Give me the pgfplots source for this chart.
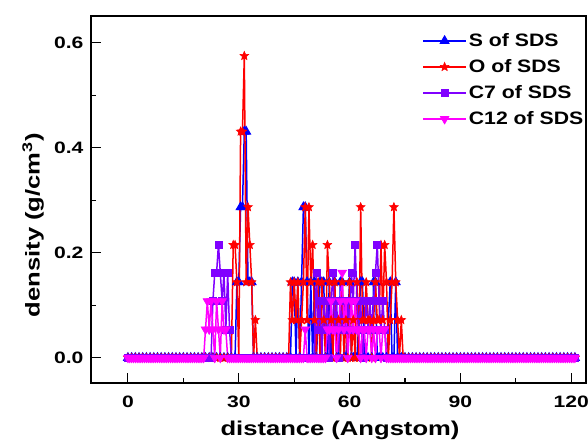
\documentclass[border=0pt]{standalone}
\usepackage{pgfplots}
\pgfplotsset{compat=1.18}
\usepackage{fontspec}
\setmainfont{Liberation Sans}
\usetikzlibrary{calc}
\definecolor{cS}{RGB}{0,0,255}
\definecolor{cO}{RGB}{255,0,0}
\definecolor{cCs}{RGB}{128,0,255}
\definecolor{cCt}{RGB}{255,0,255}
\newcommand{\wide}[1]{\scalebox{1.28}[1]{#1}}
\newcommand{\lwide}[1]{\scalebox{1.18}[1]{#1}}
\pgfdeclareplotmark{fstar}{%
 \pgfpathmoveto{\pgfpointpolar{90}{\pgfplotmarksize}}%
 \pgfpathlineto{\pgfpointpolar{126}{0.45\pgfplotmarksize}}%
 \pgfpathlineto{\pgfpointpolar{162}{\pgfplotmarksize}}%
 \pgfpathlineto{\pgfpointpolar{198}{0.45\pgfplotmarksize}}%
 \pgfpathlineto{\pgfpointpolar{234}{\pgfplotmarksize}}%
 \pgfpathlineto{\pgfpointpolar{270}{0.45\pgfplotmarksize}}%
 \pgfpathlineto{\pgfpointpolar{306}{\pgfplotmarksize}}%
 \pgfpathlineto{\pgfpointpolar{342}{0.45\pgfplotmarksize}}%
 \pgfpathlineto{\pgfpointpolar{18}{\pgfplotmarksize}}%
 \pgfpathlineto{\pgfpointpolar{54}{0.45\pgfplotmarksize}}%
 \pgfpathclose\pgfusepathqfillstroke}
\begin{document}
\begin{tikzpicture}
\begin{axis}[scale only axis, width=495pt, height=367pt,
 xmin=-10, xmax=124, ymin=-0.048, ymax=0.651,
 axis line style={line width=1.3pt},
 tick style={line width=1.1pt, black},
 major tick length=10pt, minor tick length=5pt,
 tick align=inside, tick pos=left,
 xtick={0,30,60,90,120}, minor xtick={15,45,75,105},
 ytick={0,0.2,0.4,0.6}, minor ytick={0.1,0.3,0.5},
 xticklabel={\wide{\pgfmathprintnumber[assume math mode=true]{\tick}}},
 yticklabel={\wide{\pgfmathprintnumber[assume math mode=true,fixed,fixed zerofill,precision=1]{\tick}}},
 tick label style={font=\bfseries\fontsize{16.5}{17}\selectfont},
 xticklabel style={yshift=-9pt},
 yticklabel style={xshift=-4pt},
 xlabel={\wide{distance (Angstom)}},
 ylabel={\wide{density (g/cm\textsuperscript{3})}},
 label style={font=\bfseries\fontsize{20}{21}\selectfont},
 xlabel style={at={(axis description cs:0.503,-0.128)}, anchor=center},
 ylabel style={at={(axis description cs:-0.117,0.43)}, anchor=center},
 legend cell align=left,
 legend style={draw=none, fill=none, at={(axis description cs:0.669,0.958)}, anchor=north west,
   font=\bfseries\fontsize{18}{18}\selectfont, row sep=7.5pt, inner sep=0pt},
 legend image code/.code={\draw[mark repeat=2,mark phase=2,#1] plot coordinates {(0pt,0pt) (21.5pt,0pt) (43pt,0pt)};},
]
\coordinate (SW) at (rel axis cs:0,0);
\coordinate (NE) at (rel axis cs:1,1);
\addplot[color=cS, line width=1.5pt, mark=triangle*, mark size=5pt, mark options={solid, fill=cS, line width=1pt}] coordinates {
(0,0) (1,0) (2,0) (3,0) (4,0) (5,0) (6,0) (7,0) (8,0) (9,0) (10,0) (11,0) (12,0) (13,0) (14,0) (15,0) (16,0) (17,0) (18,0) (19,0) (20,0) (21,0) (22,0) (23,0) (24,0) (25,0) (26,0) (27,0) (28,0)
(29,0) (29.5,0.144) (30,0.144) (30.5,0.287) (31,0.287) (31.5,0.431) (32,0.431) (32.5,0.144) (33,0.144) (33.5,0.144) (34,0)
(35,0) (36,0) (37,0) (38,0) (39,0) (40,0) (41,0) (42,0) (43,0)
(44,0) (44.5,0.144) (45,0.144) (45.5,0) (46,0.144) (46.5,0) (47,0.144) (47.5,0.287) (48,0.287) (48.5,0.144) (49,0) (49.5,0.144) (50,0) (50.5,0.144) (51,0) (52,0.144) (52.5,0.144) (53,0.144) (53.5,0) (54,0) (54.5,0.144) (55,0) (56,0.144) (56.5,0) (57,0) (57.5,0.144) (58,0.144) (58.5,0) (59,0) (60,0.144) (60.5,0) (61,0) (62,0) (63,0.144) (63.5,0.144) (64,0) (65,0) (66,0) (66.5,0.144) (67,0.144) (67.5,0) (68,0) (69,0) (70,0) (71,0.144) (71.5,0) (72,0) (72.5,0.144) (73,0)
(74,0) (75,0) (76,0) (77,0) (78,0) (79,0) (80,0) (81,0) (82,0) (83,0) (84,0) (85,0) (86,0) (87,0) (88,0) (89,0) (90,0) (91,0) (92,0) (93,0) (94,0) (95,0) (96,0) (97,0) (98,0) (99,0) (100,0) (101,0) (102,0) (103,0) (104,0) (105,0) (106,0) (107,0) (108,0) (109,0) (110,0) (111,0) (112,0) (113,0) (114,0) (115,0) (116,0) (117,0) (118,0) (119,0) (120,0) (121,0)
};
\addlegendentry{\lwide{S of SDS}}
\addplot[color=cO, line width=1.5pt, mark=fstar, mark size=4.5pt, mark options={solid, fill=cO, line width=0.6pt}] coordinates {
(0,0) (1,0) (2,0) (3,0) (4,0) (5,0) (6,0) (7,0) (8,0) (9,0) (10,0) (11,0) (12,0) (13,0) (14,0) (15,0) (16,0) (17,0) (18,0) (19,0) (20,0) (21,0) (22,0) (23,0) (24,0) (25,0) (26,0) (27,0)
(28,0) (28.5,0.215) (29,0.215) (29.5,0.144) (30,0) (30.5,0.431) (31,0.431) (31.5,0.575) (32,0.144) (32.5,0.287) (33,0.215) (33.5,0.144) (34,0) (34.5,0.072) (35,0)
(36,0) (37,0) (38,0) (39,0) (40,0) (41,0) (42,0) (43,0)
(43.5,0) (44,0.144) (44.5,0.072) (45,0.144) (45.5,0.072) (46,0.144) (46.5,0) (47,0.072) (47.5,0.144) (48,0.287) (48.5,0.072) (49,0.287) (49.5,0.144) (50,0.215) (50.5,0.072) (51,0) (51.5,0.144) (52,0) (52.5,0.144) (53,0.072) (53.5,0) (54,0.215) (54.5,0.144) (55,0.072) (55.5,0) (56,0.144) (56.5,0) (57,0.072) (57.5,0) (58,0.144) (58.5,0) (59,0.072) (59.5,0) (60,0.144) (60.5,0) (61,0.072) (61.5,0) (62,0.144) (62.5,0) (63,0.287) (63.5,0.072) (64,0.072) (64.5,0.144) (65,0.072) (65.5,0.072) (66,0) (66.5,0.072) (67,0.144) (67.5,0.072) (68,0.072) (68.5,0.215) (69,0.072) (69.5,0.215) (70,0.144) (70.5,0) (71,0.072) (71.5,0.144) (72,0.287) (72.5,0.144) (73,0.072) (73.5,0) (74,0.072) (74.5,0)
(75,0) (76,0) (77,0) (78,0) (79,0) (80,0) (81,0) (82,0) (83,0) (84,0) (85,0) (86,0) (87,0) (88,0) (89,0) (90,0) (91,0) (92,0) (93,0) (94,0) (95,0) (96,0) (97,0) (98,0) (99,0) (100,0) (101,0) (102,0) (103,0) (104,0) (105,0) (106,0) (107,0) (108,0) (109,0) (110,0) (111,0) (112,0) (113,0) (114,0) (115,0) (116,0) (117,0) (118,0) (119,0) (120,0) (121,0)
};
\addlegendentry{\lwide{O of SDS}}
\addplot[color=cCs, line width=1.5pt, mark=square*, mark size=3.5pt, mark options={solid, fill=cCs, line width=0.6pt}] coordinates {
(0,0) (1,0) (2,0) (3,0) (4,0) (5,0) (6,0) (7,0) (8,0) (9,0) (10,0) (11,0) (12,0) (13,0) (14,0) (15,0) (16,0) (17,0) (18,0) (19,0) (20,0) (21,0) (22,0)
(22.5,0) (23,0.108) (23.5,0.162) (24,0.162) (24.5,0.216) (25,0.162) (25.5,0.108) (26,0.162) (26.5,0.054) (27,0.162) (27.5,0.054) (28,0)
(29,0) (30,0) (31,0) (32,0) (33,0) (34,0) (35,0) (36,0) (37,0) (38,0) (39,0) (40,0) (41,0) (42,0) (43,0) (44,0) (45,0) (46,0) (47,0) (48,0) (49,0) (50,0)
(50.5,0) (51,0.162) (51.5,0.054) (52,0.108) (52.5,0) (53,0.108) (53.5,0.054) (54,0.108) (54.5,0) (55,0.108) (55.5,0.162) (56,0.054) (56.5,0.108) (57,0) (57.5,0.108) (58,0.054) (58.5,0.108) (59,0.054) (59.5,0.108) (60,0.054) (60.5,0.162) (61,0.108) (61.5,0.216) (62,0.108) (62.5,0.054) (63,0.108) (63.5,0) (64,0.054) (64.5,0.108) (65,0.054) (65.5,0.108) (66,0.054) (66.5,0.108) (67,0.162) (67.5,0.216) (68,0.108) (68.5,0.054) (69,0.108) (69.5,0.054) (70,0)
(71,0) (72,0) (73,0) (74,0) (75,0) (76,0) (77,0) (78,0) (79,0) (80,0) (81,0) (82,0) (83,0) (84,0) (85,0) (86,0) (87,0) (88,0) (89,0) (90,0) (91,0) (92,0) (93,0) (94,0) (95,0) (96,0) (97,0) (98,0) (99,0) (100,0) (101,0) (102,0) (103,0) (104,0) (105,0) (106,0) (107,0) (108,0) (109,0) (110,0) (111,0) (112,0) (113,0) (114,0) (115,0) (116,0) (117,0) (118,0) (119,0) (120,0) (121,0)
};
\addlegendentry{\lwide{C7 of SDS}}
\addplot[color=cCt, line width=1.5pt, mark=triangle*, mark size=5pt, mark options={solid, fill=cCt, rotate=180, line width=0.6pt}] coordinates {
(0,0) (0.5,0) (1,0) (1.5,0) (2,0) (2.5,0) (3,0) (3.5,0) (4,0) (4.5,0) (5,0) (5.5,0) (6,0) (6.5,0) (7,0) (7.5,0) (8,0) (8.5,0) (9,0) (9.5,0) (10,0) (10.5,0) (11,0) (11.5,0) (12,0) (12.5,0) (13,0) (13.5,0) (14,0) (14.5,0) (15,0) (15.5,0) (16,0) (16.5,0) (17,0) (17.5,0) (18,0) (18.5,0) (19,0) (19.5,0) (20,0)
(20.5,0) (21,0.054) (21.5,0.108) (22,0.054) (22.5,0.108) (23,0.054) (23.5,0) (24,0.108) (24.5,0.054) (25,0) (25.5,0.108) (26,0.054) (26.5,0.054) (27,0)
(27.5,0) (28,0) (28.5,0) (29,0) (29.5,0) (30,0) (30.5,0) (31,0) (31.5,0) (32,0) (32.5,0) (33,0) (33.5,0) (34,0) (34.5,0) (35,0) (35.5,0) (36,0) (36.5,0) (37,0) (37.5,0) (38,0) (38.5,0) (39,0) (39.5,0) (40,0) (40.5,0) (41,0) (41.5,0) (42,0) (42.5,0) (43,0) (43.5,0) (44,0) (44.5,0) (45,0) (45.5,0) (46,0) (46.5,0) (47,0)
(47.5,0) (48,0.054) (48.5,0) (49,0) (49.5,0) (50,0) (50.5,0) (51,0) (51.5,0) (52,0) (52.5,0) (53,0) (53.5,0) (54,0.054) (54.5,0.054) (55,0.108) (55.5,0.054) (56,0.054) (56.5,0) (57,0.054) (57.5,0.108) (58,0.162) (58.5,0.054) (59,0.108) (59.5,0) (60,0.054) (60.5,0.108) (61,0.054) (61.5,0.108) (62,0.054) (62.5,0.054) (63,0) (63.5,0.054) (64,0.054) (64.5,0) (65,0.054) (65.5,0.054) (66,0) (66.5,0.054) (67,0) (67.5,0.054) (68,0.054) (68.5,0) (69,0.054) (69.5,0.054) (70,0)
(70.5,0) (71,0) (71.5,0) (72,0) (72.5,0) (73,0) (73.5,0) (74,0) (74.5,0) (75,0) (75.5,0) (76,0) (76.5,0) (77,0) (77.5,0) (78,0) (78.5,0) (79,0) (79.5,0) (80,0) (80.5,0) (81,0) (81.5,0) (82,0) (82.5,0) (83,0) (83.5,0) (84,0) (84.5,0) (85,0) (85.5,0) (86,0) (86.5,0) (87,0) (87.5,0) (88,0) (88.5,0) (89,0) (89.5,0) (90,0) (90.5,0) (91,0) (91.5,0) (92,0) (92.5,0) (93,0) (93.5,0) (94,0) (94.5,0) (95,0) (95.5,0) (96,0) (96.5,0) (97,0) (97.5,0) (98,0) (98.5,0) (99,0) (99.5,0) (100,0) (100.5,0) (101,0) (101.5,0) (102,0) (102.5,0) (103,0) (103.5,0) (104,0) (104.5,0) (105,0) (105.5,0) (106,0) (106.5,0) (107,0) (107.5,0) (108,0) (108.5,0) (109,0) (109.5,0) (110,0) (110.5,0) (111,0) (111.5,0) (112,0) (112.5,0) (113,0) (113.5,0) (114,0) (114.5,0) (115,0) (115.5,0) (116,0) (116.5,0) (117,0) (117.5,0) (118,0) (118.5,0) (119,0) (119.5,0) (120,0) (120.5,0) (121,0)
};
\addlegendentry{\lwide{C12 of SDS}}
\end{axis}
\pgfresetboundingbox
\path ($(SW)+(-91pt,-62pt)$) rectangle ($(NE)+(2pt,16pt)$);
\end{tikzpicture}
\end{document}
